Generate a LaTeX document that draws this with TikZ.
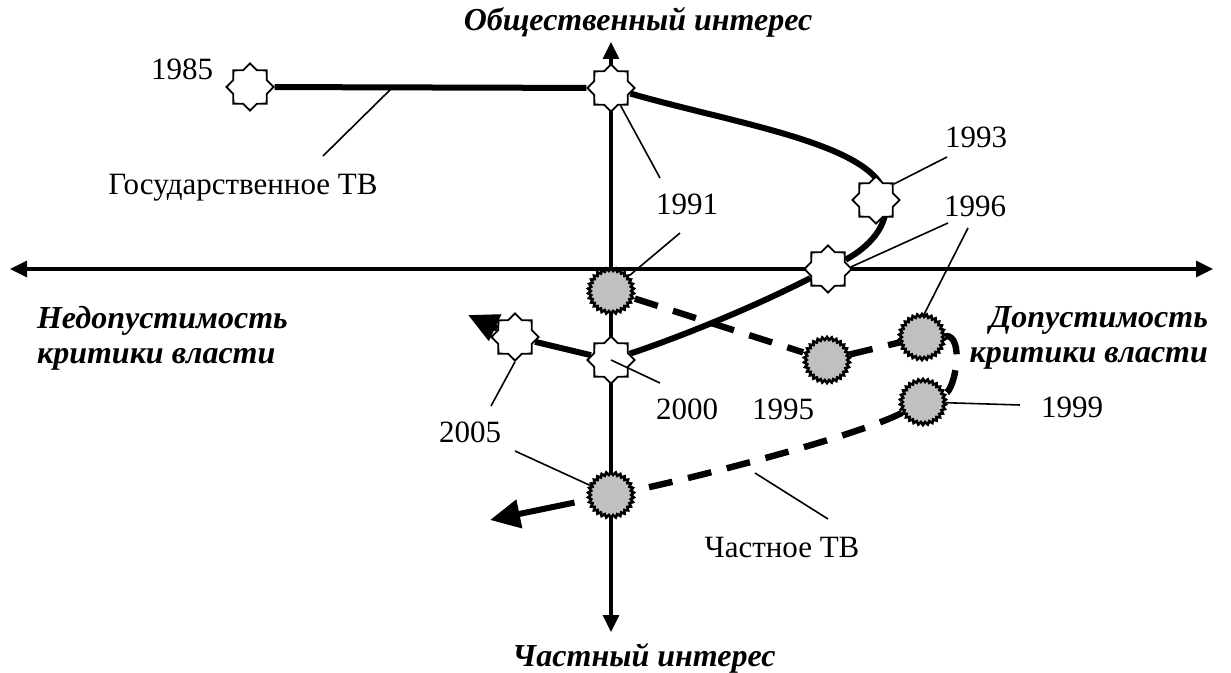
\documentclass[tikz,border=0pt]{standalone}
\usepackage{fontspec}
\setmainfont{Liberation Serif}
\usetikzlibrary{arrows.meta,shapes.geometric,backgrounds}
\definecolor{circgray}{RGB}{192,192,192}

\begin{document}
\begin{tikzpicture}
[x=0.5pt,y=-0.5pt,
every node/.style={font=\fontsize{15.5}{17.5}\selectfont},
gos/.style={star,star points=8,star point ratio=1.3,minimum size=23.5pt,inner sep=0pt,draw,fill=white,line width=0.9pt},
priv/.style={star,star points=30,star point ratio=1.14,minimum size=23pt,inner sep=0pt,draw,fill=circgray,line width=1.3pt},
axis/.style={<->,>={Triangle[length=8.5pt,width=8pt]},line width=1.6pt},
gosline/.style={line width=3pt},
privline/.style={line width=3.2pt,dash pattern=on 12pt off 8pt},
bigtip/.style={->,>={Triangle[length=15pt,width=14pt]}},
lead/.style={line width=0.8pt},
axlabel/.style={font=\fontsize{16}{17.5}\selectfont\bfseries\itshape}]
\useasboundingbox (0,0) rectangle (1231,673);
%%
\coordinate (xl) at (10,269);
\coordinate (xr) at (1213,269);
\coordinate (yt) at (611,42);
\coordinate (yb) at (611,632);
\node[axlabel] (pub) at (638,22) {Общественный интерес};
\node[axlabel] (pvt) at (644,658) {Частный интерес};
\node[axlabel,anchor=west,align=left] (nocrit) at (30,338) {Недопустимость\\критики власти};
\node[axlabel,anchor=east,align=right] (crit) at (1215,338) {Допустимость\\критики власти};
%%
%% state TV
\node[gos] (gos85) at (250,87) {};
\node[gos] (gos91) at (611,88) {};
\node[gos] (gos93) at (876,200) {};
\node[gos] (gos96) at (828,269) {};
\node[gos] (gos00) at (611,360) {};
\node[gos] (gos05) at (515,337) {};
\coordinate (gosend) at (468,315);
%%
%% private TV
\node[priv] (priv91) at (611,291) {};
\node[priv] (priv95) at (827,360) {};
\node[priv] (priv96) at (922,337) {};
\node[priv] (priv99) at (923,402) {};
\node[priv] (priv05) at (611,495) {};
\coordinate (privend) at (490,520);
%%
\begin{scope}[on background layer]
\draw[axis] (xl) -- (xr);
\draw[axis] (yb) -- (yt);
\draw[gosline] (gos85) -- (gos91) .. controls (740,125) and (882,145) .. ([xshift=5pt]gos93.center)
  .. controls (889,232) and (860,252) .. (gos96)
  .. controls (756,306) and (683,336) .. (gos00) -- (gos05);
\draw[gosline,bigtip] (gos05) -- (gosend);
\draw[privline] (priv91) -- (priv95) -- (priv96)
  .. controls (965,335) and (955,390) .. (priv99)
  .. controls (853,438) and (681,481) .. (priv05);
\draw[gosline,bigtip,shorten <=7.5pt] (priv05) -- (privend);
\end{scope}
%%
%% labels
\node[anchor=base] (l85) at (182,80) {1985};
\node[anchor=base] (lgos) at (243,195) {Государственное ТВ};
\node[anchor=base] (l91) at (687,215) {1991};
\node[anchor=base] (l93) at (976,148) {1993};
\node[anchor=base] (l96) at (975,217) {1996};
\node[anchor=base] (l99) at (1072,418) {1999};
\node[anchor=base] (l00) at (687,420) {2000};
\node[anchor=base] (l95) at (783,420) {1995};
\node[anchor=base] (l05) at (470,443) {2005};
\node[anchor=base] (lpriv) at (782,557) {Частное ТВ};
%%
\coordinate (kgos) at (323,156);
\coordinate (ongos) at (393,87);
\coordinate (k91a) at (660,178);
\coordinate (k91b) at (680,233);
\coordinate (k93) at (947,157);
\coordinate (k96a) at (948,223);
\coordinate (k96b) at (968,228);
\coordinate (k99) at (1020,405);
\coordinate (k00) at (660,383);
\coordinate (k05a) at (491,406);
\coordinate (k05b) at (515,451);
\coordinate (kpriv) at (828,519);
\coordinate (onpriv) at (755,473);
%%
\draw[lead] (kgos) -- (ongos);
\draw[lead] (k91a) -- (gos91);
\draw[lead] (k91b) -- (priv91);
\draw[lead] (k93) -- (gos93.42);
\draw[lead] (k96a) -- (gos96.5);
\draw[lead] (k96b) -- (priv96.85);
\draw[lead] (k99) -- (priv99);
\draw[lead] (k00) -- (gos00.center);
\draw[lead] (k05a) -- (gos05.south);
\draw[lead] (k05b) -- (priv05);
\draw[lead] (kpriv) -- (onpriv);
\end{tikzpicture}
\end{document}
